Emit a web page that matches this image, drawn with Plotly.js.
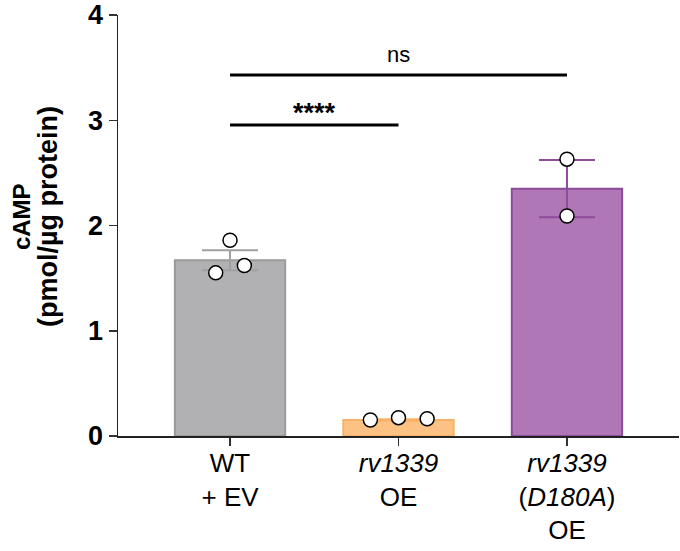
<!DOCTYPE html>
<html>
<head>
<meta charset="utf-8">
<script src="https://cdn.plot.ly/plotly-3.0.1.min.js"></script>
<style>
  html, body { margin: 0; padding: 0; background: #fff; }
  #chartdiv { width: 680px; height: 551px; }
</style>
</head>
<body>
<div id="chartdiv"></div>
<script>
// groups on the x axis
const groups = ['WT<br>+ EV', '<i>rv1339</i><br>OE', '<i>rv1339</i><br>(<i>D180A</i>)<br>OE'];

// bar heights (mean) and SEM
const means = [1.67, 0.152, 2.35];
const sems = [0.095, 0.006, 0.272];

// individual replicates per group
const wtPoints = [1.55, 1.86, 1.62];
const oePoints = [0.152, 0.174, 0.164];
const d180aPoints = [2.63, 2.09];
const ptOffset = [[-0.085, 0, 0.085], [-0.167, 0, 0.17], [0, 0]];

// significance brackets
const brackets = [
  {from: 0, to: 1, y: 2.955, label: '****', bold: true},
  {from: 0, to: 2, y: 3.43, label: 'ns', bold: false},
];

// y title, two lines
const yTitle = ['cAMP', '(pmol/µg protein)'];

const fill = ['#b1b1b4', '#fcc283', '#b077b6'];
const edge = ['#9a9a9c', '#f6b268', '#8f4b9b'];
const errColor = ['#a0a0a2', '#f6b268', '#8f4b9b'];
const font = 'Arial, "Liberation Sans", sans-serif';

const xIdx = groups.map((g, i) => i);
const data = [];

// one bar trace per group so each error bar keeps its own colour
means.forEach((m, i) => {
  data.push({
    type: 'bar',
    x: [i],
    y: [m],
    width: 0.655,
    marker: {color: fill[i], line: {color: edge[i], width: 2}},
    error_y: {type: 'data', array: [sems[i]], visible: true, thickness: 2, width: 28, color: errColor[i]},
    hoverinfo: 'skip',
  });
});

[wtPoints, oePoints, d180aPoints].forEach((pts, g) => {
  data.push({
    type: 'scatter',
    mode: 'markers',
    x: pts.map((v, k) => g + ptOffset[g][k]),
    y: pts,
    marker: {size: 14, color: '#fff', line: {color: '#000', width: 1.5}},
    hoverinfo: 'skip',
  });
});

const shapes = brackets.map(b => ({
  type: 'line', xref: 'x', yref: 'y',
  x0: b.from, x1: b.to, y0: b.y, y1: b.y,
  line: {color: '#000', width: 3},
}));

const annotations = brackets.map(b => ({
  xref: 'x', yref: 'y',
  x: (b.from + b.to) / 2, y: b.y,
  text: b.bold ? '<b>' + b.label + '</b>' : b.label,
  showarrow: false,
  yanchor: 'bottom',
  yshift: b.bold ? -5 : 6,
  font: {family: font, size: b.bold ? 27 : 22, color: '#000'},
}));

// y title as two rotated annotations so the line gap can be set
yTitle.forEach((t, i) => {
  annotations.push({
    xref: 'paper', yref: 'paper',
    x: 0, y: 0.52,
    xanchor: 'center', yanchor: 'middle',
    xshift: i == 0 ? -97 : -70,
    textangle: -90,
    text: '<b>' + t + '</b>',
    showarrow: false,
    font: {family: font, size: i == 0 ? 24 : 27, color: '#000'},
  });
});

const layout = {
  width: 680, height: 551,
  margin: {l: 118, r: 1, t: 15, b: 115},
  paper_bgcolor: '#fff',
  plot_bgcolor: '#fff',
  showlegend: false,
  barmode: 'overlay',
  font: {family: font, color: '#000'},
  xaxis: {
    range: [-0.665, 2.665],
    tickvals: xIdx,
    ticktext: groups,
    ticks: 'outside', ticklen: 8, tickwidth: 1.5, tickcolor: '#333',
    ticklabelstandoff: -5,
    showline: true, linecolor: '#222', linewidth: 1.5,
    showgrid: false, zeroline: false,
    tickfont: {family: font, size: 26, color: '#000'},
  },
  yaxis: {
    range: [0, 4],
    tickvals: [0, 1, 2, 3, 4],
    ticks: 'outside', ticklen: 8, tickwidth: 1.5, tickcolor: '#333',
    showline: true, linecolor: '#222', linewidth: 1.5,
    showgrid: false, zeroline: false,
    tickfont: {family: font, size: 27, color: '#000', weight: 'bold'},
  },
  shapes: shapes,
  annotations: annotations,
};

Plotly.newPlot('chartdiv', data, layout, {staticPlot: true});
</script>
</body>
</html>
